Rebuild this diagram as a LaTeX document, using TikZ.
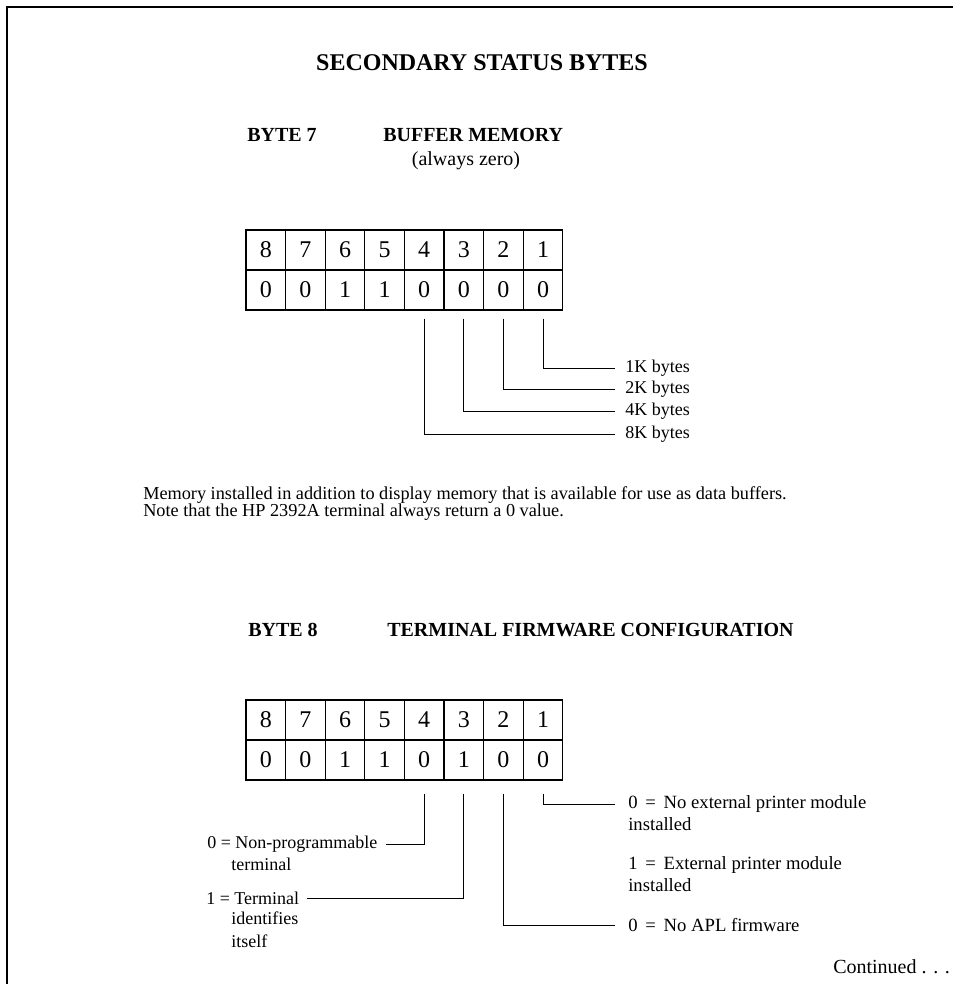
\documentclass[tikz,border=0pt]{standalone}
\usepackage{fontspec}
\setmainfont{Liberation Serif}
\begin{document}
\begin{tikzpicture}[x=0.75pt,y=-0.75pt,
  cell/.style={draw, line width=0.9pt, inner sep=0pt, minimum width=29.7pt, minimum height=30pt, font=\fontsize{18}{18}\selectfont},
  lead/.style={line width=0.75pt},
  head/.style={inner sep=0pt, font=\bfseries\fontsize{15}{15}\selectfont},
  lbl/.style={inner sep=0pt, anchor=west, font=\fontsize{13.5}{13.5}\selectfont},
  rlbl/.style={inner sep=0pt, anchor=west, font=\fontsize{14}{14}\selectfont},
  para/.style={inner sep=0pt, anchor=west, font=\fontsize{13.7}{13.7}\selectfont}]
\useasboundingbox (0,0) rectangle (953,984);
% frame
\draw[line width=1.4pt] (953,7) -- (7,7) -- (7,984);
% title
\node[inner sep=0pt, font=\bfseries\fontsize{18}{18}\selectfont] (title) at (482,63) {SECONDARY STATUS BYTES};
% byte 7 heading
\node[head, anchor=west] (b7) at (247,135) {BYTE 7};
\node[head, anchor=west] (b7t) at (383,135) {BUFFER MEMORY};
\node[inner sep=0pt, font=\fontsize{15}{15}\selectfont] (b7s) at (466,161) {(always zero)};
% table 1
\foreach \b/\v [count=\i] in {8/0,7/0,6/1,5/1,4/0,3/0,2/0,1/0}{
  \node[cell] (t1h\b) at ({246+39.6*(\i-0.5)},250) {\b};
  \node[cell] (t1v\b) at ({246+39.6*(\i-0.5)},290) {\v};
}
\node[lbl] (k1) at (625,368) {1K bytes};
\node[lbl] (k2) at (625,389) {2K bytes};
\node[lbl] (k4) at (625,411) {4K bytes};
\node[lbl] (k8) at (625,434) {8K bytes};
\draw[lead] ([yshift=-6pt]t1v1.south) |- ([xshift=-7.5pt]k1.west);
\draw[lead] ([yshift=-6pt]t1v2.south) |- ([xshift=-7.5pt]k2.west);
\draw[lead] ([yshift=-6pt]t1v3.south) |- ([xshift=-7.5pt]k4.west);
\draw[lead] ([yshift=-6pt]t1v4.south) |- ([xshift=-7.5pt]k8.west);
% paragraph
\node[para] (p1) at (143,495) {Memory installed in addition to display memory that is available for use as data buffers.};
\node[para] (p2) at (143,512) {Note that the HP 2392A terminal always return a 0 value.};
% byte 8 heading
\node[head, anchor=west] (b8) at (248,630) {BYTE 8};
\node[head, anchor=west] (b8t) at (387,630) {TERMINAL FIRMWARE CONFIGURATION};
% table 2
\foreach \b/\v [count=\i] in {8/0,7/0,6/1,5/1,4/0,3/1,2/0,1/0}{
  \node[cell] (t2h\b) at ({246+39.6*(\i-0.5)},720) {\b};
  \node[cell] (t2v\b) at ({246+39.6*(\i-0.5)},760) {\v};
}
% right labels
\node[rlbl] (e0) at (628,804) {0 \,=\, No external printer module};
\node[rlbl] (e0b) at (628,824) {installed};
\node[rlbl] (e1) at (628,865) {1 \,=\, External printer module};
\node[rlbl] (e1b) at (628,885) {installed};
\node[rlbl] (a0) at (628,925) {0 \,=\, No APL firmware};
% left labels
\node[lbl] (n0) at (207,844) {0 = Non-programmable};
\node[lbl] (n0b) at (231,864) {terminal};
\node[lbl] (n1) at (206,898) {1 = Terminal};
\node[lbl] (n1b) at (231,918) {identifies};
\node[lbl] (n1c) at (231,941) {itself};
% leaders table 2
\draw[lead] ([yshift=-10pt]t2v1.south) |- ([xshift=-9.75pt]e0.west);
\draw[lead] ([yshift=-10pt]t2v2.south) |- ([xshift=-9.75pt]a0.west);
\draw[lead] ([yshift=-10pt]t2v3.south) |- ([xshift=6pt]n1.east);
\draw[lead] ([yshift=-10pt]t2v4.south) |- ([xshift=6pt]n0.east);
% continued
\node[inner sep=0pt, anchor=west, font=\fontsize{15}{15}\selectfont] (cont) at (833,967) {Continued . . .};
\end{tikzpicture}
\end{document}
